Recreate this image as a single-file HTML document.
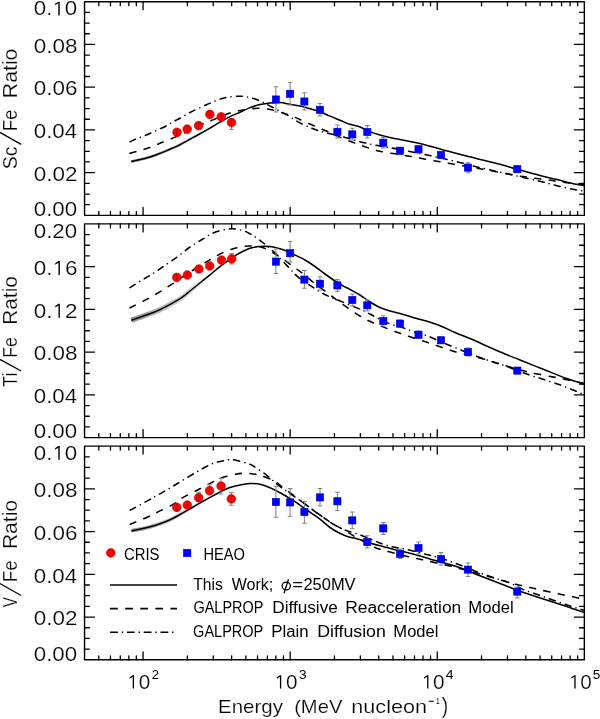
<!DOCTYPE html><html><head><meta charset="utf-8"><style>html,body{margin:0;padding:0;background:#fff;}svg{display:block;}text{font-family:"Liberation Sans",sans-serif;fill:#000;stroke:#fff;stroke-width:0.2px;}</style></head><body>
<svg width="600" height="719" viewBox="0 0 600 719">
<rect width="600" height="719" fill="#fff"/>
<path d="M98.8 215.4V211.4M98.8 1.7V5.7M110.45 215.4V211.4M110.45 1.7V5.7M120.3 215.4V211.4M120.3 1.7V5.7M128.83 215.4V211.4M128.83 1.7V5.7M136.35 215.4V211.4M136.35 1.7V5.7M143.08 215.4V207.4M143.08 1.7V9.7M187.36 215.4V211.4M187.36 1.7V5.7M213.26 215.4V211.4M213.26 1.7V5.7M231.64 215.4V211.4M231.64 1.7V5.7M245.89 215.4V211.4M245.89 1.7V5.7M257.54 215.4V211.4M257.54 1.7V5.7M267.39 215.4V211.4M267.39 1.7V5.7M275.92 215.4V211.4M275.92 1.7V5.7M283.44 215.4V211.4M283.44 1.7V5.7M290.17 215.4V207.4M290.17 1.7V9.7M334.45 215.4V211.4M334.45 1.7V5.7M360.35 215.4V211.4M360.35 1.7V5.7M378.73 215.4V211.4M378.73 1.7V5.7M392.98 215.4V211.4M392.98 1.7V5.7M404.63 215.4V211.4M404.63 1.7V5.7M414.48 215.4V211.4M414.48 1.7V5.7M423.01 215.4V211.4M423.01 1.7V5.7M430.53 215.4V211.4M430.53 1.7V5.7M437.26 215.4V207.4M437.26 1.7V9.7M481.54 215.4V211.4M481.54 1.7V5.7M507.44 215.4V211.4M507.44 1.7V5.7M525.82 215.4V211.4M525.82 1.7V5.7M540.07 215.4V211.4M540.07 1.7V5.7M551.72 215.4V211.4M551.72 1.7V5.7M561.57 215.4V211.4M561.57 1.7V5.7M570.1 215.4V211.4M570.1 1.7V5.7M577.62 215.4V211.4M577.62 1.7V5.7M84.55 204.71H89.35M584.35 204.71H579.55M84.55 194.03H89.35M584.35 194.03H579.55M84.55 183.34H89.35M584.35 183.34H579.55M84.55 172.66H94.55M584.35 172.66H574.35M84.55 161.97H89.35M584.35 161.97H579.55M84.55 151.29H89.35M584.35 151.29H579.55M84.55 140.6H89.35M584.35 140.6H579.55M84.55 129.92H94.55M584.35 129.92H574.35M84.55 119.23H89.35M584.35 119.23H579.55M84.55 108.55H89.35M584.35 108.55H579.55M84.55 97.86H89.35M584.35 97.86H579.55M84.55 87.18H94.55M584.35 87.18H574.35M84.55 76.49H89.35M584.35 76.49H579.55M84.55 65.81H89.35M584.35 65.81H579.55M84.55 55.13H89.35M584.35 55.13H579.55M84.55 44.44H94.55M584.35 44.44H574.35M84.55 33.76H89.35M584.35 33.76H579.55M84.55 23.07H89.35M584.35 23.07H579.55M84.55 12.39H89.35M584.35 12.39H579.55" fill="none" stroke="#000" stroke-width="1.3" stroke-linecap="round"/>
<rect x="84.55" y="1.7" width="499.8" height="213.7" fill="none" stroke="#000" stroke-width="1.4" stroke-linejoin="round"/>
<path d="M98.8 437.6V433.6M98.8 223.9V227.9M110.45 437.6V433.6M110.45 223.9V227.9M120.3 437.6V433.6M120.3 223.9V227.9M128.83 437.6V433.6M128.83 223.9V227.9M136.35 437.6V433.6M136.35 223.9V227.9M143.08 437.6V429.6M143.08 223.9V231.9M187.36 437.6V433.6M187.36 223.9V227.9M213.26 437.6V433.6M213.26 223.9V227.9M231.64 437.6V433.6M231.64 223.9V227.9M245.89 437.6V433.6M245.89 223.9V227.9M257.54 437.6V433.6M257.54 223.9V227.9M267.39 437.6V433.6M267.39 223.9V227.9M275.92 437.6V433.6M275.92 223.9V227.9M283.44 437.6V433.6M283.44 223.9V227.9M290.17 437.6V429.6M290.17 223.9V231.9M334.45 437.6V433.6M334.45 223.9V227.9M360.35 437.6V433.6M360.35 223.9V227.9M378.73 437.6V433.6M378.73 223.9V227.9M392.98 437.6V433.6M392.98 223.9V227.9M404.63 437.6V433.6M404.63 223.9V227.9M414.48 437.6V433.6M414.48 223.9V227.9M423.01 437.6V433.6M423.01 223.9V227.9M430.53 437.6V433.6M430.53 223.9V227.9M437.26 437.6V429.6M437.26 223.9V231.9M481.54 437.6V433.6M481.54 223.9V227.9M507.44 437.6V433.6M507.44 223.9V227.9M525.82 437.6V433.6M525.82 223.9V227.9M540.07 437.6V433.6M540.07 223.9V227.9M551.72 437.6V433.6M551.72 223.9V227.9M561.57 437.6V433.6M561.57 223.9V227.9M570.1 437.6V433.6M570.1 223.9V227.9M577.62 437.6V433.6M577.62 223.9V227.9M84.55 426.91H89.35M584.35 426.91H579.55M84.55 416.23H89.35M584.35 416.23H579.55M84.55 405.54H89.35M584.35 405.54H579.55M84.55 394.86H94.55M584.35 394.86H574.35M84.55 384.17H89.35M584.35 384.17H579.55M84.55 373.49H89.35M584.35 373.49H579.55M84.55 362.8H89.35M584.35 362.8H579.55M84.55 352.12H94.55M584.35 352.12H574.35M84.55 341.44H89.35M584.35 341.44H579.55M84.55 330.75H89.35M584.35 330.75H579.55M84.55 320.06H89.35M584.35 320.06H579.55M84.55 309.38H94.55M584.35 309.38H574.35M84.55 298.69H89.35M584.35 298.69H579.55M84.55 288.01H89.35M584.35 288.01H579.55M84.55 277.33H89.35M584.35 277.33H579.55M84.55 266.64H94.55M584.35 266.64H574.35M84.55 255.96H89.35M584.35 255.96H579.55M84.55 245.27H89.35M584.35 245.27H579.55M84.55 234.59H89.35M584.35 234.59H579.55" fill="none" stroke="#000" stroke-width="1.3" stroke-linecap="round"/>
<rect x="84.55" y="223.9" width="499.8" height="213.7" fill="none" stroke="#000" stroke-width="1.4" stroke-linejoin="round"/>
<path d="M98.8 659.8V655.8M98.8 446.1V450.1M110.45 659.8V655.8M110.45 446.1V450.1M120.3 659.8V655.8M120.3 446.1V450.1M128.83 659.8V655.8M128.83 446.1V450.1M136.35 659.8V655.8M136.35 446.1V450.1M143.08 659.8V651.8M143.08 446.1V454.1M187.36 659.8V655.8M187.36 446.1V450.1M213.26 659.8V655.8M213.26 446.1V450.1M231.64 659.8V655.8M231.64 446.1V450.1M245.89 659.8V655.8M245.89 446.1V450.1M257.54 659.8V655.8M257.54 446.1V450.1M267.39 659.8V655.8M267.39 446.1V450.1M275.92 659.8V655.8M275.92 446.1V450.1M283.44 659.8V655.8M283.44 446.1V450.1M290.17 659.8V651.8M290.17 446.1V454.1M334.45 659.8V655.8M334.45 446.1V450.1M360.35 659.8V655.8M360.35 446.1V450.1M378.73 659.8V655.8M378.73 446.1V450.1M392.98 659.8V655.8M392.98 446.1V450.1M404.63 659.8V655.8M404.63 446.1V450.1M414.48 659.8V655.8M414.48 446.1V450.1M423.01 659.8V655.8M423.01 446.1V450.1M430.53 659.8V655.8M430.53 446.1V450.1M437.26 659.8V651.8M437.26 446.1V454.1M481.54 659.8V655.8M481.54 446.1V450.1M507.44 659.8V655.8M507.44 446.1V450.1M525.82 659.8V655.8M525.82 446.1V450.1M540.07 659.8V655.8M540.07 446.1V450.1M551.72 659.8V655.8M551.72 446.1V450.1M561.57 659.8V655.8M561.57 446.1V450.1M570.1 659.8V655.8M570.1 446.1V450.1M577.62 659.8V655.8M577.62 446.1V450.1M84.55 649.12H89.35M584.35 649.12H579.55M84.55 638.43H89.35M584.35 638.43H579.55M84.55 627.75H89.35M584.35 627.75H579.55M84.55 617.06H94.55M584.35 617.06H574.35M84.55 606.38H89.35M584.35 606.38H579.55M84.55 595.69H89.35M584.35 595.69H579.55M84.55 585H89.35M584.35 585H579.55M84.55 574.32H94.55M584.35 574.32H574.35M84.55 563.63H89.35M584.35 563.63H579.55M84.55 552.95H89.35M584.35 552.95H579.55M84.55 542.26H89.35M584.35 542.26H579.55M84.55 531.58H94.55M584.35 531.58H574.35M84.55 520.89H89.35M584.35 520.89H579.55M84.55 510.21H89.35M584.35 510.21H579.55M84.55 499.53H89.35M584.35 499.53H579.55M84.55 488.84H94.55M584.35 488.84H574.35M84.55 478.16H89.35M584.35 478.16H579.55M84.55 467.47H89.35M584.35 467.47H579.55M84.55 456.79H89.35M584.35 456.79H579.55" fill="none" stroke="#000" stroke-width="1.3" stroke-linecap="round"/>
<rect x="84.55" y="446.1" width="499.8" height="213.7" fill="none" stroke="#000" stroke-width="1.4" stroke-linejoin="round"/>
<linearGradient id="bg0" gradientUnits="userSpaceOnUse" x1="131" y1="0" x2="215" y2="0"><stop offset="0" stop-color="#7a7a7a" stop-opacity="0.8"/><stop offset="1" stop-color="#7a7a7a" stop-opacity="0"/></linearGradient>
<path d="M131.3 161.6C132.47 161.33 136.02 160.53 138.3 160C140.58 159.47 142.77 159 145 158.4C147.23 157.8 149.48 157.12 151.7 156.4C153.92 155.68 156.08 154.93 158.3 154.1C160.52 153.27 162.5 152.45 165 151.4C167.5 150.35 170.8 148.92 173.3 147.8C175.8 146.68 177.77 145.82 180 144.7C182.23 143.58 184.48 142.32 186.7 141.1C188.92 139.88 191.08 138.62 193.3 137.4C195.52 136.18 197.22 135.35 200 133.8C202.78 132.25 206.67 130.05 210 128.1C213.33 126.15 216.67 124.02 220 122.1C223.33 120.18 226.67 118.25 230 116.6C233.33 114.95 236.67 113.7 240 112.2C243.33 110.7 246.67 108.87 250 107.6C253.33 106.33 256.67 105.38 260 104.6C263.33 103.82 266.67 103.23 270 102.9C273.33 102.57 276.67 102.37 280 102.6C283.33 102.83 286.67 103.72 290 104.3C293.33 104.88 296.67 105.37 300 106.1C303.33 106.83 306.67 107.75 310 108.7C313.33 109.65 316.67 110.57 320 111.8C323.33 113.03 326.67 114.7 330 116.1C333.33 117.5 336.67 118.83 340 120.2C343.33 121.57 346.67 123.17 350 124.3C353.33 125.43 356.67 125.78 360 127C363.33 128.22 366.67 130.27 370 131.6C373.33 132.93 376.67 134 380 135C383.33 136 386.67 136.83 390 137.6C393.33 138.37 396.67 138.95 400 139.6C403.33 140.25 406.67 140.85 410 141.5C413.33 142.15 414.72 142.18 420 143.5C425.28 144.82 433.65 147.23 441.7 149.4C449.75 151.57 459.42 154.23 468.3 156.5C477.18 158.77 486.88 160.88 495 163C503.12 165.12 509.5 167.12 517 169.2C524.5 171.28 533.38 173.77 540 175.5C546.62 177.23 551.15 178.23 556.7 179.6C562.25 180.97 568.7 182.7 573.3 183.7C577.9 184.7 582.47 185.28 584.3 185.6" fill="none" stroke="url(#bg0)" stroke-width="3.0"/>
<path d="M131.3 161.6C132.47 161.33 136.02 160.53 138.3 160C140.58 159.47 142.77 159 145 158.4C147.23 157.8 149.48 157.12 151.7 156.4C153.92 155.68 156.08 154.93 158.3 154.1C160.52 153.27 162.5 152.45 165 151.4C167.5 150.35 170.8 148.92 173.3 147.8C175.8 146.68 177.77 145.82 180 144.7C182.23 143.58 184.48 142.32 186.7 141.1C188.92 139.88 191.08 138.62 193.3 137.4C195.52 136.18 197.22 135.35 200 133.8C202.78 132.25 206.67 130.05 210 128.1C213.33 126.15 216.67 124.02 220 122.1C223.33 120.18 226.67 118.25 230 116.6C233.33 114.95 236.67 113.7 240 112.2C243.33 110.7 246.67 108.87 250 107.6C253.33 106.33 256.67 105.38 260 104.6C263.33 103.82 266.67 103.23 270 102.9C273.33 102.57 276.67 102.37 280 102.6C283.33 102.83 286.67 103.72 290 104.3C293.33 104.88 296.67 105.37 300 106.1C303.33 106.83 306.67 107.75 310 108.7C313.33 109.65 316.67 110.57 320 111.8C323.33 113.03 326.67 114.7 330 116.1C333.33 117.5 336.67 118.83 340 120.2C343.33 121.57 346.67 123.17 350 124.3C353.33 125.43 356.67 125.78 360 127C363.33 128.22 366.67 130.27 370 131.6C373.33 132.93 376.67 134 380 135C383.33 136 386.67 136.83 390 137.6C393.33 138.37 396.67 138.95 400 139.6C403.33 140.25 406.67 140.85 410 141.5C413.33 142.15 414.72 142.18 420 143.5C425.28 144.82 433.65 147.23 441.7 149.4C449.75 151.57 459.42 154.23 468.3 156.5C477.18 158.77 486.88 160.88 495 163C503.12 165.12 509.5 167.12 517 169.2C524.5 171.28 533.38 173.77 540 175.5C546.62 177.23 551.15 178.23 556.7 179.6C562.25 180.97 568.7 182.7 573.3 183.7C577.9 184.7 582.47 185.28 584.3 185.6" fill="none" stroke="#000" stroke-width="1.55" stroke-linejoin="round"/>
<path d="M130 153.3C131.17 152.97 134.62 151.97 137 151.3C139.38 150.63 141.92 150.02 144.3 149.3C146.68 148.58 148.97 147.88 151.3 147C153.63 146.12 156.02 144.95 158.3 144C160.58 143.05 162.38 142.37 165 141.3C167.62 140.23 171 138.9 174 137.6C177 136.3 180 134.85 183 133.5C186 132.15 188.5 131.17 192 129.5C195.5 127.83 200.17 125.25 204 123.5C207.83 121.75 210.67 120.75 215 119C219.33 117.25 225 114.55 230 113C235 111.45 240 110.48 245 109.7C250 108.92 255 108.17 260 108.3C265 108.43 270 109.3 275 110.5C280 111.7 285.42 113.8 290 115.5C294.58 117.2 298 118.75 302.5 120.7C307 122.65 312.42 125.23 317 127.2C321.58 129.17 326.17 130.82 330 132.5C333.83 134.18 335 135.22 340 137.3C345 139.38 353.33 142.67 360 145C366.67 147.33 373.33 149.72 380 151.3C386.67 152.88 394.17 153.5 400 154.5C405.83 155.5 408.05 156.05 415 157.3C421.95 158.55 432.82 160.43 441.7 162C450.58 163.57 459.42 165.12 468.3 166.7C477.18 168.28 485.88 169.85 495 171.5C504.12 173.15 514.5 175.25 523 176.6C531.5 177.95 539 178.62 546 179.6C553 180.58 558.62 181.67 565 182.5C571.38 183.33 581.08 184.25 584.3 184.6" fill="none" stroke="#000" stroke-width="1.55" stroke-linecap="round" stroke-dasharray="6 8.6"/>
<path d="M130 141.7C131.17 141.2 134.38 139.77 137 138.7C139.62 137.63 143.03 136.42 145.7 135.3C148.37 134.18 150.4 133.17 153 132C155.6 130.83 158.92 129.42 161.3 128.3C163.68 127.18 165.57 126.23 167.3 125.3C169.03 124.37 170.25 123.53 171.7 122.7C173.15 121.87 174.62 121.03 176 120.3C177.38 119.57 177.67 119.6 180 118.3C182.33 117 185.5 114.8 190 112.5C194.5 110.2 201.67 106.83 207 104.5C212.33 102.17 217.67 99.82 222 98.5C226.33 97.18 229.67 96.97 233 96.6C236.33 96.23 239.17 96.15 242 96.3C244.83 96.45 247.33 96.88 250 97.5C252.67 98.12 255.5 99 258 100C260.5 101 262.67 102.33 265 103.5C267.33 104.67 269.5 105.72 272 107C274.5 108.28 277.33 109.78 280 111.2C282.67 112.62 285.5 114.03 288 115.5C290.5 116.97 292.58 118.55 295 120C297.42 121.45 300 122.95 302.5 124.2C305 125.45 307.58 126.5 310 127.5C312.42 128.5 314.33 129.32 317 130.2C319.67 131.08 322.17 131.83 326 132.8C329.83 133.77 334.33 134.52 340 136C345.67 137.48 353.33 140.03 360 141.7C366.67 143.37 373.33 144.7 380 146C386.67 147.3 391.95 147.95 400 149.5C408.05 151.05 419.13 153.33 428.3 155.3C437.47 157.27 446.1 159.18 455 161.3C463.9 163.42 471.7 165.63 481.7 168C491.7 170.37 505.28 173.28 515 175.5C524.72 177.72 533.17 179.65 540 181.3C546.83 182.95 550.58 184.08 556 185.4C561.42 186.72 567.78 188.27 572.5 189.2C577.22 190.13 582.33 190.7 584.3 191" fill="none" stroke="#000" stroke-width="1.55" stroke-linecap="round" stroke-dasharray="6 5.3 0.01 5.3"/>
<linearGradient id="bg1" gradientUnits="userSpaceOnUse" x1="131" y1="0" x2="215" y2="0"><stop offset="0" stop-color="#7a7a7a" stop-opacity="0.85"/><stop offset="1" stop-color="#7a7a7a" stop-opacity="0"/></linearGradient>
<path d="M131.3 320.3C132.75 319.78 137.17 318.2 140 317.2C142.83 316.2 145.52 315.32 148.3 314.3C151.08 313.28 153.92 312.3 156.7 311.1C159.48 309.9 162.23 308.52 165 307.1C167.77 305.68 170.52 304.18 173.3 302.6C176.08 301.02 178.92 299.53 181.7 297.6C184.48 295.67 186.67 293.68 190 291C193.33 288.32 198.37 284.2 201.7 281.5C205.03 278.8 207.23 277.07 210 274.8C212.77 272.53 215.52 270.08 218.3 267.9C221.08 265.72 223.75 263.82 226.7 261.7C229.65 259.58 233.28 256.93 236 255.2C238.72 253.47 240.67 252.45 243 251.3C245.33 250.15 247.17 249.1 250 248.3C252.83 247.5 256.67 246.78 260 246.5C263.33 246.22 266.67 246.22 270 246.6C273.33 246.98 277.17 248.02 280 248.8C282.83 249.58 284.67 250.33 287 251.3C289.33 252.27 291 253.15 294 254.6C297 256.05 301.5 258.02 305 260C308.5 261.98 311.67 264.17 315 266.5C318.33 268.83 321.67 271.58 325 274C328.33 276.42 332.17 279.12 335 281C337.83 282.88 339.5 283.88 342 285.3C344.5 286.72 347 287.88 350 289.5C353 291.12 356.67 292.92 360 295C363.33 297.08 366.67 299.92 370 302C373.33 304.08 376.67 306 380 307.5C383.33 309 386.67 309.98 390 311C393.33 312.02 395.83 312.43 400 313.6C404.17 314.77 408.62 316.1 415 318C421.38 319.9 431.63 322.58 438.3 325C444.97 327.42 449.43 330.12 455 332.5C460.57 334.88 465.87 336.8 471.7 339.3C477.53 341.8 484.45 345.05 490 347.5C495.55 349.95 500 351.92 505 354C510 356.08 513.62 357.45 520 360C526.38 362.55 535.52 366.2 543.3 369.3C551.08 372.4 559.87 376.08 566.7 378.6C573.53 381.12 581.37 383.43 584.3 384.4" fill="none" stroke="url(#bg1)" stroke-width="5.2"/>
<path d="M131.3 320.3C132.75 319.78 137.17 318.2 140 317.2C142.83 316.2 145.52 315.32 148.3 314.3C151.08 313.28 153.92 312.3 156.7 311.1C159.48 309.9 162.23 308.52 165 307.1C167.77 305.68 170.52 304.18 173.3 302.6C176.08 301.02 178.92 299.53 181.7 297.6C184.48 295.67 186.67 293.68 190 291C193.33 288.32 198.37 284.2 201.7 281.5C205.03 278.8 207.23 277.07 210 274.8C212.77 272.53 215.52 270.08 218.3 267.9C221.08 265.72 223.75 263.82 226.7 261.7C229.65 259.58 233.28 256.93 236 255.2C238.72 253.47 240.67 252.45 243 251.3C245.33 250.15 247.17 249.1 250 248.3C252.83 247.5 256.67 246.78 260 246.5C263.33 246.22 266.67 246.22 270 246.6C273.33 246.98 277.17 248.02 280 248.8C282.83 249.58 284.67 250.33 287 251.3C289.33 252.27 291 253.15 294 254.6C297 256.05 301.5 258.02 305 260C308.5 261.98 311.67 264.17 315 266.5C318.33 268.83 321.67 271.58 325 274C328.33 276.42 332.17 279.12 335 281C337.83 282.88 339.5 283.88 342 285.3C344.5 286.72 347 287.88 350 289.5C353 291.12 356.67 292.92 360 295C363.33 297.08 366.67 299.92 370 302C373.33 304.08 376.67 306 380 307.5C383.33 309 386.67 309.98 390 311C393.33 312.02 395.83 312.43 400 313.6C404.17 314.77 408.62 316.1 415 318C421.38 319.9 431.63 322.58 438.3 325C444.97 327.42 449.43 330.12 455 332.5C460.57 334.88 465.87 336.8 471.7 339.3C477.53 341.8 484.45 345.05 490 347.5C495.55 349.95 500 351.92 505 354C510 356.08 513.62 357.45 520 360C526.38 362.55 535.52 366.2 543.3 369.3C551.08 372.4 559.87 376.08 566.7 378.6C573.53 381.12 581.37 383.43 584.3 384.4" fill="none" stroke="#000" stroke-width="1.55" stroke-linejoin="round"/>
<path d="M130 307.8C132.78 306.4 141.73 302.05 146.7 299.4C151.67 296.75 155.47 294.52 159.8 291.9C164.13 289.28 167.67 287.02 172.7 283.7C177.73 280.38 183.68 276.05 190 272C196.32 267.95 205.05 262.65 210.6 259.4C216.15 256.15 218.82 254.47 223.3 252.5C227.78 250.53 233.15 248.68 237.5 247.6C241.85 246.52 245.65 246.13 249.4 246C253.15 245.87 257.07 246.22 260 246.8C262.93 247.38 263.67 247.8 267 249.5C270.33 251.2 275.75 254.25 280 257C284.25 259.75 288.67 263.22 292.5 266C296.33 268.78 299.42 270.87 303 273.7C306.58 276.53 310 279.87 314 283C318 286.13 323 289.5 327 292.5C331 295.5 334.22 298.2 338 301C341.78 303.8 345.32 306.35 349.7 309.3C354.08 312.25 359.63 316.13 364.3 318.7C368.97 321.27 373.25 322.82 377.7 324.7C382.15 326.58 386.33 328.23 391 330C395.67 331.77 399.2 333.08 405.7 335.3C412.2 337.52 421.78 340.57 430 343.3C438.22 346.03 446.67 349.25 455 351.7C463.33 354.15 472.5 355.95 480 358C487.5 360.05 492.22 361.72 500 364C507.78 366.28 516.98 369.37 526.7 371.7C536.42 374.03 548.7 376.03 558.3 378C567.9 379.97 579.97 382.58 584.3 383.5" fill="none" stroke="#000" stroke-width="1.55" stroke-linecap="round" stroke-dasharray="6 8.6"/>
<path d="M130 287.6C131.67 286.54 137.08 283.03 140 281.25C142.92 279.47 145.07 278.36 147.5 276.9C149.93 275.44 151.97 274.23 154.6 272.5C157.23 270.77 159.62 269.03 163.3 266.5C166.98 263.97 172.47 260.38 176.7 257.3C180.93 254.22 185.52 250.33 188.7 248C191.88 245.67 193.42 244.8 195.8 243.3C198.18 241.8 200.63 240.47 203 239C205.37 237.53 207.5 235.78 210 234.5C212.5 233.22 215.25 232.17 218 231.3C220.75 230.43 224 229.72 226.5 229.3C229 228.88 230.75 228.72 233 228.8C235.25 228.88 237.83 229.33 240 229.8C242.17 230.27 244.17 230.85 246 231.6C247.83 232.35 249.08 233.15 251 234.3C252.92 235.45 255.33 236.97 257.5 238.5C259.67 240.03 261.92 241.83 264 243.5C266.08 245.17 267.67 246.42 270 248.5C272.33 250.58 274.67 252.62 278 256C281.33 259.38 286.5 265.17 290 268.8C293.5 272.43 295 274.6 299 277.8C303 281 310.33 285.55 314 288C317.67 290.45 318.5 291.08 321 292.5C323.5 293.92 326.38 295.32 329 296.5C331.62 297.68 331.25 297.35 336.7 299.6C342.15 301.85 355.32 307.15 361.7 310C368.08 312.85 370.57 314.48 375 316.7C379.43 318.92 383.85 321.53 388.3 323.3C392.75 325.07 397.7 325.97 401.7 327.3C405.7 328.63 408.42 330.02 412.3 331.3C416.18 332.58 419.27 332.85 425 335C430.73 337.15 437.53 340.45 446.7 344.2C455.87 347.95 470.28 353.9 480 357.5C489.72 361.1 497.22 363.05 505 365.8C512.78 368.55 517.82 370.92 526.7 374C535.58 377.08 548.7 380.87 558.3 384.3C567.9 387.73 579.97 392.88 584.3 394.6" fill="none" stroke="#000" stroke-width="1.55" stroke-linecap="round" stroke-dasharray="6 5.3 0.01 5.3"/>
<linearGradient id="bg2" gradientUnits="userSpaceOnUse" x1="131" y1="0" x2="215" y2="0"><stop offset="0" stop-color="#7a7a7a" stop-opacity="0.8"/><stop offset="1" stop-color="#7a7a7a" stop-opacity="0"/></linearGradient>
<path d="M131.4 530.8C134.22 530.22 143.53 528.47 148.3 527.3C153.07 526.13 156.1 525.18 160 523.8C163.9 522.42 167.82 520.87 171.7 519C175.58 517.13 179.13 514.95 183.3 512.6C187.47 510.25 192.25 507.43 196.7 504.9C201.15 502.37 206.12 499.55 210 497.4C213.88 495.25 216.67 493.63 220 492C223.33 490.37 226.67 488.77 230 487.6C233.33 486.43 236.67 485.67 240 485C243.33 484.33 246.67 483.72 250 483.6C253.33 483.48 256.67 483.6 260 484.3C263.33 485 266.67 486.38 270 487.8C273.33 489.22 276.67 491 280 492.8C283.33 494.6 287.5 497.12 290 498.6C292.5 500.08 292.78 500.22 295 501.7C297.22 503.18 300.52 505.57 303.3 507.5C306.08 509.43 308.92 511.35 311.7 513.3C314.48 515.25 316.95 516.83 320 519.2C323.05 521.57 326.95 525.28 330 527.5C333.05 529.72 335.52 531.05 338.3 532.5C341.08 533.95 343.92 535.23 346.7 536.2C349.48 537.17 352.37 537.63 355 538.3C357.63 538.97 359.58 539.3 362.5 540.2C365.42 541.1 368.97 542.62 372.5 543.7C376.03 544.78 379.95 545.7 383.7 546.7C387.45 547.7 390.62 548.6 395 549.7C399.38 550.8 404.17 551.75 410 553.3C415.83 554.85 421.67 556.58 430 559C438.33 561.42 451.67 565 460 567.8C468.33 570.6 473.33 573.18 480 575.8C486.67 578.42 493.33 580.93 500 583.5C506.67 586.07 512.78 588.63 520 591.2C527.22 593.77 535.52 596.35 543.3 598.9C551.08 601.45 559.87 604.22 566.7 606.5C573.53 608.78 581.37 611.58 584.3 612.6" fill="none" stroke="url(#bg2)" stroke-width="3.8"/>
<path d="M131.4 530.8C134.22 530.22 143.53 528.47 148.3 527.3C153.07 526.13 156.1 525.18 160 523.8C163.9 522.42 167.82 520.87 171.7 519C175.58 517.13 179.13 514.95 183.3 512.6C187.47 510.25 192.25 507.43 196.7 504.9C201.15 502.37 206.12 499.55 210 497.4C213.88 495.25 216.67 493.63 220 492C223.33 490.37 226.67 488.77 230 487.6C233.33 486.43 236.67 485.67 240 485C243.33 484.33 246.67 483.72 250 483.6C253.33 483.48 256.67 483.6 260 484.3C263.33 485 266.67 486.38 270 487.8C273.33 489.22 276.67 491 280 492.8C283.33 494.6 287.5 497.12 290 498.6C292.5 500.08 292.78 500.22 295 501.7C297.22 503.18 300.52 505.57 303.3 507.5C306.08 509.43 308.92 511.35 311.7 513.3C314.48 515.25 316.95 516.83 320 519.2C323.05 521.57 326.95 525.28 330 527.5C333.05 529.72 335.52 531.05 338.3 532.5C341.08 533.95 343.92 535.23 346.7 536.2C349.48 537.17 352.37 537.63 355 538.3C357.63 538.97 359.58 539.3 362.5 540.2C365.42 541.1 368.97 542.62 372.5 543.7C376.03 544.78 379.95 545.7 383.7 546.7C387.45 547.7 390.62 548.6 395 549.7C399.38 550.8 404.17 551.75 410 553.3C415.83 554.85 421.67 556.58 430 559C438.33 561.42 451.67 565 460 567.8C468.33 570.6 473.33 573.18 480 575.8C486.67 578.42 493.33 580.93 500 583.5C506.67 586.07 512.78 588.63 520 591.2C527.22 593.77 535.52 596.35 543.3 598.9C551.08 601.45 559.87 604.22 566.7 606.5C573.53 608.78 581.37 611.58 584.3 612.6" fill="none" stroke="#000" stroke-width="1.55" stroke-linejoin="round"/>
<path d="M130.3 524.3C133.3 523.05 143.35 519.03 148.3 516.8C153.25 514.57 155.72 513.05 160 510.9C164.28 508.75 170.12 506.17 174 503.9C177.88 501.63 179.52 499.53 183.3 497.3C187.08 495.07 192.25 492.82 196.7 490.5C201.15 488.18 205.57 485.6 210 483.4C214.43 481.2 218.85 478.87 223.3 477.3C227.75 475.73 233.08 474.67 236.7 474C240.32 473.33 242.23 473.3 245 473.3C247.77 473.3 250.8 473.67 253.3 474C255.8 474.33 256.67 474.22 260 475.3C263.33 476.38 269.47 478.47 273.3 480.5C277.13 482.53 279.38 484.83 283 487.5C286.62 490.17 291 493.5 295 496.5C299 499.5 303 502.5 307 505.5C311 508.5 314.67 511.42 319 514.5C323.33 517.58 328.67 521.33 333 524C337.33 526.67 340.83 528.08 345 530.5C349.17 532.92 353.42 535.87 358 538.5C362.58 541.13 368.17 544.3 372.5 546.3C376.83 548.3 377.25 548.6 384 550.5C390.75 552.4 405.67 555.95 413 557.7C420.33 559.45 420.83 559.37 428 561C435.17 562.63 447.33 565.33 456 567.5C464.67 569.67 472.67 571.95 480 574C487.33 576.05 494.17 578.13 500 579.8C505.83 581.47 510 582.72 515 584C520 585.28 524.17 586.17 530 587.5C535.83 588.83 542 590.25 550 592C558 593.75 572.28 596.78 578 598C583.72 599.22 583.25 599.08 584.3 599.3" fill="none" stroke="#000" stroke-width="1.55" stroke-linecap="round" stroke-dasharray="6 8.6"/>
<path d="M130.3 510.1C133.3 508.48 143.35 503.12 148.3 500.4C153.25 497.68 156.1 496.03 160 493.8C163.9 491.57 167.82 489.3 171.7 487C175.58 484.7 179.13 482.5 183.3 480C187.47 477.5 192.83 474.25 196.7 472C200.57 469.75 203.62 468 206.5 466.5C209.38 465 211.33 463.92 214 463C216.67 462.08 219.83 461.58 222.5 461C225.17 460.42 227.42 459.53 230 459.5C232.58 459.47 235.12 460.13 238 460.8C240.88 461.47 244.75 462.63 247.3 463.5C249.85 464.37 250.07 464.03 253.3 466C256.53 467.97 262.7 472.22 266.7 475.3C270.7 478.38 273.97 481.83 277.3 484.5C280.63 487.17 283.75 489.22 286.7 491.3C289.65 493.38 291.62 494.63 295 497C298.38 499.37 302.83 502.5 307 505.5C311.17 508.5 315.67 511.92 320 515C324.33 518.08 328.83 521.5 333 524C337.17 526.5 340.63 528.23 345 530C349.37 531.77 354.24 532.78 359.2 534.6C364.16 536.42 370.28 539.13 374.75 540.9C379.22 542.67 382.46 544.1 386 545.2C389.54 546.3 392.42 546.78 396 547.5C399.58 548.22 402.83 548.45 407.5 549.5C412.17 550.55 418.58 552.38 424 553.8C429.42 555.22 434 556.13 440 558C446 559.87 453.33 562.5 460 565C466.67 567.5 473.33 570.55 480 573C486.67 575.45 495 578.03 500 579.7C505 581.37 506.08 581.35 510 583C513.92 584.65 517.95 587.33 523.5 589.6C529.05 591.87 536.1 594.07 543.3 596.6C550.5 599.13 559.87 602.47 566.7 604.8C573.53 607.13 581.37 609.63 584.3 610.6" fill="none" stroke="#000" stroke-width="1.55" stroke-linecap="round" stroke-dasharray="6 5.3 0.01 5.3"/>
<circle cx="177" cy="132.3" r="4.35" fill="#ff0000" stroke="#c00000" stroke-width="0.6"/>
<path d="M177 128.3V136.3" stroke="#b00000" stroke-width="0.9" fill="none"/>
<circle cx="187.2" cy="129.1" r="4.35" fill="#ff0000" stroke="#c00000" stroke-width="0.6"/>
<path d="M187.2 125.1V133.1" stroke="#b00000" stroke-width="0.9" fill="none"/>
<circle cx="198.6" cy="125.6" r="4.35" fill="#ff0000" stroke="#c00000" stroke-width="0.6"/>
<path d="M198.6 121.6V129.6" stroke="#b00000" stroke-width="0.9" fill="none"/>
<circle cx="209.9" cy="114.4" r="4.35" fill="#ff0000" stroke="#c00000" stroke-width="0.6"/>
<path d="M209.9 110.4V118.4" stroke="#b00000" stroke-width="0.9" fill="none"/>
<circle cx="221.2" cy="116.8" r="4.35" fill="#ff0000" stroke="#c00000" stroke-width="0.6"/>
<path d="M221.2 112.8V120.8" stroke="#b00000" stroke-width="0.9" fill="none"/>
<path d="M231.5 118.1V118.5M229.2 118.5H233.8M231.5 126.9V129.4M229.2 129.4H233.8" stroke="#858585" stroke-width="1.05" fill="none"/>
<circle cx="231.5" cy="122.5" r="4.35" fill="#ff0000" stroke="#c00000" stroke-width="0.6"/>
<path d="M231.5 118.5V126.5" stroke="#b00000" stroke-width="0.9" fill="none"/>
<path d="M275.9 86.7V112M273.6 86.7H278.2M273.6 112H278.2" stroke="#858585" stroke-width="1.05" fill="none"/>
<rect x="272.3" y="95.9" width="7.2" height="7.2" fill="#0000ff" stroke="#0000c0" stroke-width="0.6"/>
<path d="M290.1 82.4V105M287.8 82.4H292.4M287.8 105H292.4" stroke="#858585" stroke-width="1.05" fill="none"/>
<rect x="286.5" y="90.2" width="7.2" height="7.2" fill="#0000ff" stroke="#0000c0" stroke-width="0.6"/>
<path d="M304.4 92.8V110M302.1 92.8H306.7M302.1 110H306.7" stroke="#858585" stroke-width="1.05" fill="none"/>
<rect x="300.8" y="97.9" width="7.2" height="7.2" fill="#0000ff" stroke="#0000c0" stroke-width="0.6"/>
<path d="M320 103.5V116M317.7 103.5H322.3M317.7 116H322.3" stroke="#858585" stroke-width="1.05" fill="none"/>
<rect x="316.4" y="106.2" width="7.2" height="7.2" fill="#0000ff" stroke="#0000c0" stroke-width="0.6"/>
<path d="M337.4 125V138M335.1 125H339.7M335.1 138H339.7" stroke="#858585" stroke-width="1.05" fill="none"/>
<rect x="333.8" y="128.2" width="7.2" height="7.2" fill="#0000ff" stroke="#0000c0" stroke-width="0.6"/>
<path d="M352.3 128.3V140M350 128.3H354.6M350 140H354.6" stroke="#858585" stroke-width="1.05" fill="none"/>
<rect x="348.7" y="130.8" width="7.2" height="7.2" fill="#0000ff" stroke="#0000c0" stroke-width="0.6"/>
<path d="M367.3 125.6V138M365 125.6H369.6M365 138H369.6" stroke="#858585" stroke-width="1.05" fill="none"/>
<rect x="363.7" y="128.4" width="7.2" height="7.2" fill="#0000ff" stroke="#0000c0" stroke-width="0.6"/>
<path d="M383.3 137.3V148M381 137.3H385.6M381 148H385.6" stroke="#858585" stroke-width="1.05" fill="none"/>
<rect x="379.7" y="139.1" width="7.2" height="7.2" fill="#0000ff" stroke="#0000c0" stroke-width="0.6"/>
<path d="M400 147.5V154M397.7 147.5H402.3M397.7 154H402.3" stroke="#858585" stroke-width="1.05" fill="none"/>
<rect x="396.4" y="147.1" width="7.2" height="7.2" fill="#0000ff" stroke="#0000c0" stroke-width="0.6"/>
<path d="M418.5 146V153M416.2 146H420.8M416.2 153H420.8" stroke="#858585" stroke-width="1.05" fill="none"/>
<rect x="414.9" y="145.7" width="7.2" height="7.2" fill="#0000ff" stroke="#0000c0" stroke-width="0.6"/>
<path d="M441 152V158M438.7 152H443.3M438.7 158H443.3" stroke="#858585" stroke-width="1.05" fill="none"/>
<rect x="437.4" y="151.4" width="7.2" height="7.2" fill="#0000ff" stroke="#0000c0" stroke-width="0.6"/>
<path d="M468 162.7V172.7M465.7 162.7H470.3M465.7 172.7H470.3" stroke="#858585" stroke-width="1.05" fill="none"/>
<rect x="464.4" y="164" width="7.2" height="7.2" fill="#0000ff" stroke="#0000c0" stroke-width="0.6"/>
<path d="M517.3 166V172.5M515 166H519.6M515 172.5H519.6" stroke="#858585" stroke-width="1.05" fill="none"/>
<rect x="513.7" y="165.6" width="7.2" height="7.2" fill="#0000ff" stroke="#0000c0" stroke-width="0.6"/>
<circle cx="176.8" cy="277.4" r="4.35" fill="#ff0000" stroke="#c00000" stroke-width="0.6"/>
<path d="M176.8 273.4V281.4" stroke="#b00000" stroke-width="0.9" fill="none"/>
<circle cx="187.3" cy="275" r="4.35" fill="#ff0000" stroke="#c00000" stroke-width="0.6"/>
<path d="M187.3 271V279" stroke="#b00000" stroke-width="0.9" fill="none"/>
<circle cx="198.9" cy="269" r="4.35" fill="#ff0000" stroke="#c00000" stroke-width="0.6"/>
<path d="M198.9 265V273" stroke="#b00000" stroke-width="0.9" fill="none"/>
<circle cx="209.7" cy="266" r="4.35" fill="#ff0000" stroke="#c00000" stroke-width="0.6"/>
<path d="M209.7 262V270" stroke="#b00000" stroke-width="0.9" fill="none"/>
<circle cx="221.6" cy="260.1" r="4.35" fill="#ff0000" stroke="#c00000" stroke-width="0.6"/>
<path d="M221.6 256.1V264.1" stroke="#b00000" stroke-width="0.9" fill="none"/>
<path d="M231.7 254.5V253.6M229.4 253.6H234M231.7 263.3V264M229.4 264H234" stroke="#858585" stroke-width="1.05" fill="none"/>
<circle cx="231.7" cy="258.9" r="4.35" fill="#ff0000" stroke="#c00000" stroke-width="0.6"/>
<path d="M231.7 254.9V262.9" stroke="#b00000" stroke-width="0.9" fill="none"/>
<path d="M275.9 249V273.4M273.6 249H278.2M273.6 273.4H278.2" stroke="#858585" stroke-width="1.05" fill="none"/>
<rect x="272.3" y="258" width="7.2" height="7.2" fill="#0000ff" stroke="#0000c0" stroke-width="0.6"/>
<path d="M290.1 241.5V262M287.8 241.5H292.4M287.8 262H292.4" stroke="#858585" stroke-width="1.05" fill="none"/>
<rect x="286.5" y="249.6" width="7.2" height="7.2" fill="#0000ff" stroke="#0000c0" stroke-width="0.6"/>
<path d="M304.4 270.4V288.3M302.1 270.4H306.7M302.1 288.3H306.7" stroke="#858585" stroke-width="1.05" fill="none"/>
<rect x="300.8" y="276" width="7.2" height="7.2" fill="#0000ff" stroke="#0000c0" stroke-width="0.6"/>
<path d="M320 276.8V290M317.7 276.8H322.3M317.7 290H322.3" stroke="#858585" stroke-width="1.05" fill="none"/>
<rect x="316.4" y="280.15" width="7.2" height="7.2" fill="#0000ff" stroke="#0000c0" stroke-width="0.6"/>
<path d="M337.4 279.6V291.25M335.1 279.6H339.7M335.1 291.25H339.7" stroke="#858585" stroke-width="1.05" fill="none"/>
<rect x="333.8" y="281.8" width="7.2" height="7.2" fill="#0000ff" stroke="#0000c0" stroke-width="0.6"/>
<path d="M352.3 294V306M350 294H354.6M350 306H354.6" stroke="#858585" stroke-width="1.05" fill="none"/>
<rect x="348.7" y="296.4" width="7.2" height="7.2" fill="#0000ff" stroke="#0000c0" stroke-width="0.6"/>
<path d="M367.3 300V311M365 300H369.6M365 311H369.6" stroke="#858585" stroke-width="1.05" fill="none"/>
<rect x="363.7" y="301.7" width="7.2" height="7.2" fill="#0000ff" stroke="#0000c0" stroke-width="0.6"/>
<path d="M383.3 315.7V326M381 315.7H385.6M381 326H385.6" stroke="#858585" stroke-width="1.05" fill="none"/>
<rect x="379.7" y="317.4" width="7.2" height="7.2" fill="#0000ff" stroke="#0000c0" stroke-width="0.6"/>
<path d="M400 320V327M397.7 320H402.3M397.7 327H402.3" stroke="#858585" stroke-width="1.05" fill="none"/>
<rect x="396.4" y="320" width="7.2" height="7.2" fill="#0000ff" stroke="#0000c0" stroke-width="0.6"/>
<path d="M418.5 331V338M416.2 331H420.8M416.2 338H420.8" stroke="#858585" stroke-width="1.05" fill="none"/>
<rect x="414.9" y="331.1" width="7.2" height="7.2" fill="#0000ff" stroke="#0000c0" stroke-width="0.6"/>
<path d="M441 337V343.5M438.7 337H443.3M438.7 343.5H443.3" stroke="#858585" stroke-width="1.05" fill="none"/>
<rect x="437.4" y="336.7" width="7.2" height="7.2" fill="#0000ff" stroke="#0000c0" stroke-width="0.6"/>
<path d="M468 348V356M465.7 348H470.3M465.7 356H470.3" stroke="#858585" stroke-width="1.05" fill="none"/>
<rect x="464.4" y="348.4" width="7.2" height="7.2" fill="#0000ff" stroke="#0000c0" stroke-width="0.6"/>
<path d="M517.3 367.5V373.5M515 367.5H519.6M515 373.5H519.6" stroke="#858585" stroke-width="1.05" fill="none"/>
<rect x="513.7" y="367" width="7.2" height="7.2" fill="#0000ff" stroke="#0000c0" stroke-width="0.6"/>
<circle cx="176.8" cy="507.3" r="4.35" fill="#ff0000" stroke="#c00000" stroke-width="0.6"/>
<path d="M176.8 503.3V511.3" stroke="#b00000" stroke-width="0.9" fill="none"/>
<circle cx="187.3" cy="505" r="4.35" fill="#ff0000" stroke="#c00000" stroke-width="0.6"/>
<path d="M187.3 501V509" stroke="#b00000" stroke-width="0.9" fill="none"/>
<path d="M198.7 493.3V492.3M196.4 492.3H201" stroke="#858585" stroke-width="1.05" fill="none"/>
<circle cx="198.7" cy="497.7" r="4.35" fill="#ff0000" stroke="#c00000" stroke-width="0.6"/>
<path d="M198.7 493.7V501.7" stroke="#b00000" stroke-width="0.9" fill="none"/>
<path d="M209.6 486.3V484.7M207.3 484.7H211.9" stroke="#858585" stroke-width="1.05" fill="none"/>
<circle cx="209.6" cy="490.7" r="4.35" fill="#ff0000" stroke="#c00000" stroke-width="0.6"/>
<path d="M209.6 486.7V494.7" stroke="#b00000" stroke-width="0.9" fill="none"/>
<path d="M221.1 481.6V478.4M218.8 478.4H223.4M221.1 490.4V494M218.8 494H223.4" stroke="#858585" stroke-width="1.05" fill="none"/>
<circle cx="221.1" cy="486" r="4.35" fill="#ff0000" stroke="#c00000" stroke-width="0.6"/>
<path d="M221.1 482V490" stroke="#b00000" stroke-width="0.9" fill="none"/>
<path d="M231.3 494.5V492.4M229 492.4H233.6M231.3 503.3V505.3M229 505.3H233.6" stroke="#858585" stroke-width="1.05" fill="none"/>
<circle cx="231.3" cy="498.9" r="4.35" fill="#ff0000" stroke="#c00000" stroke-width="0.6"/>
<path d="M231.3 494.9V502.9" stroke="#b00000" stroke-width="0.9" fill="none"/>
<path d="M275.9 486.3V517.3M273.6 486.3H278.2M273.6 517.3H278.2" stroke="#858585" stroke-width="1.05" fill="none"/>
<rect x="272.3" y="498.4" width="7.2" height="7.2" fill="#0000ff" stroke="#0000c0" stroke-width="0.6"/>
<path d="M290.1 488.6V516.2M287.8 488.6H292.4M287.8 516.2H292.4" stroke="#858585" stroke-width="1.05" fill="none"/>
<rect x="286.5" y="498.8" width="7.2" height="7.2" fill="#0000ff" stroke="#0000c0" stroke-width="0.6"/>
<path d="M304.4 501.4V523.3M302.1 501.4H306.7M302.1 523.3H306.7" stroke="#858585" stroke-width="1.05" fill="none"/>
<rect x="300.8" y="508.4" width="7.2" height="7.2" fill="#0000ff" stroke="#0000c0" stroke-width="0.6"/>
<path d="M320 488.4V506M317.7 488.4H322.3M317.7 506H322.3" stroke="#858585" stroke-width="1.05" fill="none"/>
<rect x="316.4" y="493.8" width="7.2" height="7.2" fill="#0000ff" stroke="#0000c0" stroke-width="0.6"/>
<path d="M337.4 492.3V510.4M335.1 492.3H339.7M335.1 510.4H339.7" stroke="#858585" stroke-width="1.05" fill="none"/>
<rect x="333.8" y="497.7" width="7.2" height="7.2" fill="#0000ff" stroke="#0000c0" stroke-width="0.6"/>
<path d="M352.3 512V528.7M350 512H354.6M350 528.7H354.6" stroke="#858585" stroke-width="1.05" fill="none"/>
<rect x="348.7" y="516.8" width="7.2" height="7.2" fill="#0000ff" stroke="#0000c0" stroke-width="0.6"/>
<path d="M367.3 535.7V548M365 535.7H369.6M365 548H369.6" stroke="#858585" stroke-width="1.05" fill="none"/>
<rect x="363.7" y="538.4" width="7.2" height="7.2" fill="#0000ff" stroke="#0000c0" stroke-width="0.6"/>
<path d="M383.3 522.4V534.4M381 522.4H385.6M381 534.4H385.6" stroke="#858585" stroke-width="1.05" fill="none"/>
<rect x="379.7" y="524.8" width="7.2" height="7.2" fill="#0000ff" stroke="#0000c0" stroke-width="0.6"/>
<path d="M400 549V558.5M397.7 549H402.3M397.7 558.5H402.3" stroke="#858585" stroke-width="1.05" fill="none"/>
<rect x="396.4" y="550.2" width="7.2" height="7.2" fill="#0000ff" stroke="#0000c0" stroke-width="0.6"/>
<path d="M418.5 542V554M416.2 542H420.8M416.2 554H420.8" stroke="#858585" stroke-width="1.05" fill="none"/>
<rect x="414.9" y="544.4" width="7.2" height="7.2" fill="#0000ff" stroke="#0000c0" stroke-width="0.6"/>
<path d="M441 552.6V565M438.7 552.6H443.3M438.7 565H443.3" stroke="#858585" stroke-width="1.05" fill="none"/>
<rect x="437.4" y="555.4" width="7.2" height="7.2" fill="#0000ff" stroke="#0000c0" stroke-width="0.6"/>
<path d="M468 563V576.4M465.7 563H470.3M465.7 576.4H470.3" stroke="#858585" stroke-width="1.05" fill="none"/>
<rect x="464.4" y="566" width="7.2" height="7.2" fill="#0000ff" stroke="#0000c0" stroke-width="0.6"/>
<path d="M517.3 587V598M515 587H519.6M515 598H519.6" stroke="#858585" stroke-width="1.05" fill="none"/>
<rect x="513.7" y="588" width="7.2" height="7.2" fill="#0000ff" stroke="#0000c0" stroke-width="0.6"/>
<g style="will-change:transform"><path transform="translate(52.36 15.45) scale(0.01089 -0.00977)" d="M545 0L545 1250L250 1040L250 1185L545 1409L675 1409L675 0Z" fill="#000"/>
<text x="33.76" y="15.45" font-size="20" textLength="43.4" lengthAdjust="spacingAndGlyphs">0. 0</text>
<text x="33.76" y="52.69" font-size="20" textLength="43.69" lengthAdjust="spacingAndGlyphs">0.08</text>
<text x="33.76" y="95.43" font-size="20" textLength="43.69" lengthAdjust="spacingAndGlyphs">0.06</text>
<text x="33.76" y="138.17" font-size="20" textLength="43.4" lengthAdjust="spacingAndGlyphs">0.04</text>
<text x="33.76" y="180.91" font-size="20" textLength="43.69" lengthAdjust="spacingAndGlyphs">0.02</text>
<text x="33.76" y="216.15" font-size="20" textLength="43.4" lengthAdjust="spacingAndGlyphs">0.00</text>
<text x="33.76" y="237.65" font-size="20" textLength="43.4" lengthAdjust="spacingAndGlyphs">0.20</text>
<path transform="translate(52.48 274.89) scale(0.01096 -0.00977)" d="M545 0L545 1250L250 1040L250 1185L545 1409L675 1409L675 0Z" fill="#000"/>
<text x="33.76" y="274.89" font-size="20" textLength="43.69" lengthAdjust="spacingAndGlyphs">0. 6</text>
<path transform="translate(52.48 317.63) scale(0.01096 -0.00977)" d="M545 0L545 1250L250 1040L250 1185L545 1409L675 1409L675 0Z" fill="#000"/>
<text x="33.76" y="317.63" font-size="20" textLength="43.69" lengthAdjust="spacingAndGlyphs">0. 2</text>
<text x="33.76" y="360.37" font-size="20" textLength="43.69" lengthAdjust="spacingAndGlyphs">0.08</text>
<text x="33.76" y="403.11" font-size="20" textLength="43.4" lengthAdjust="spacingAndGlyphs">0.04</text>
<text x="33.76" y="438.35" font-size="20" textLength="43.4" lengthAdjust="spacingAndGlyphs">0.00</text>
<path transform="translate(52.36 459.85) scale(0.01089 -0.00977)" d="M545 0L545 1250L250 1040L250 1185L545 1409L675 1409L675 0Z" fill="#000"/>
<text x="33.76" y="459.85" font-size="20" textLength="43.4" lengthAdjust="spacingAndGlyphs">0. 0</text>
<text x="33.76" y="497.09" font-size="20" textLength="43.69" lengthAdjust="spacingAndGlyphs">0.08</text>
<text x="33.76" y="539.83" font-size="20" textLength="43.69" lengthAdjust="spacingAndGlyphs">0.06</text>
<text x="33.76" y="582.57" font-size="20" textLength="43.4" lengthAdjust="spacingAndGlyphs">0.04</text>
<text x="33.76" y="625.31" font-size="20" textLength="43.69" lengthAdjust="spacingAndGlyphs">0.02</text>
<text x="33.76" y="660.55" font-size="20" textLength="43.4" lengthAdjust="spacingAndGlyphs">0.00</text>
<path transform="translate(127.21 688.6) scale(0.01011 -0.00952)" d="M545 0L545 1250L250 1040L250 1185L545 1409L675 1409L675 0Z" fill="#000"/>
<text x="127.21" y="688.6" font-size="19.5" textLength="23.04" lengthAdjust="spacingAndGlyphs"> 0</text>
<path transform="translate(274.41 688.6) scale(0.01011 -0.00952)" d="M545 0L545 1250L250 1040L250 1185L545 1409L675 1409L675 0Z" fill="#000"/>
<text x="274.41" y="688.6" font-size="19.5" textLength="23.04" lengthAdjust="spacingAndGlyphs"> 0</text>
<path transform="translate(421.61 688.6) scale(0.01011 -0.00952)" d="M545 0L545 1250L250 1040L250 1185L545 1409L675 1409L675 0Z" fill="#000"/>
<text x="421.61" y="688.6" font-size="19.5" textLength="23.04" lengthAdjust="spacingAndGlyphs"> 0</text>
<path transform="translate(568.81 688.6) scale(0.01011 -0.00952)" d="M545 0L545 1250L250 1040L250 1185L545 1409L675 1409L675 0Z" fill="#000"/>
<text x="568.81" y="688.6" font-size="19.5" textLength="23.04" lengthAdjust="spacingAndGlyphs"> 0</text>
<text x="151.72" y="679.4" font-size="12.5" textLength="7.21" lengthAdjust="spacingAndGlyphs" style="stroke:none">2</text>
<text x="298.96" y="679.4" font-size="12.5" textLength="7.53" lengthAdjust="spacingAndGlyphs" style="stroke:none">3</text>
<text x="445.72" y="679.4" font-size="12.5" textLength="7.79" lengthAdjust="spacingAndGlyphs" style="stroke:none">4</text>
<text x="592.76" y="679.4" font-size="12.5" textLength="7.53" lengthAdjust="spacingAndGlyphs" style="stroke:none">5</text>
<text x="218.08" y="713.4" font-size="19" textLength="64.83" lengthAdjust="spacingAndGlyphs">Energy</text>
<text x="294.17" y="713.4" font-size="19" textLength="48.19" lengthAdjust="spacingAndGlyphs">(MeV</text>
<text x="351.28" y="713.4" font-size="19" textLength="75.82" lengthAdjust="spacingAndGlyphs">nucleon</text>
<text x="436.02" y="703.5" font-size="8.5" textLength="3.65" lengthAdjust="spacingAndGlyphs" style="stroke:none">1</text>
<text x="441.79" y="713.3" font-size="22.5" textLength="6.39" lengthAdjust="spacingAndGlyphs">)</text>
<text transform="translate(16.6 169.2) rotate(-90)" font-size="19.5" textLength="22.82" lengthAdjust="spacingAndGlyphs">Sc</text>
<text transform="translate(16.6 131.34) rotate(-90)" font-size="19.5" textLength="21.88" lengthAdjust="spacingAndGlyphs">Fe</text>
<text transform="translate(16.6 98.19) rotate(-90)" font-size="19.5" textLength="49.64" lengthAdjust="spacingAndGlyphs">Ratio</text>
<text transform="translate(16.6 386.96) rotate(-90)" font-size="19.5" textLength="14.35" lengthAdjust="spacingAndGlyphs">Ti</text>
<text transform="translate(16.6 357.66) rotate(-90)" font-size="19.5" textLength="20.6" lengthAdjust="spacingAndGlyphs">Fe</text>
<text transform="translate(16.6 324.7) rotate(-90)" font-size="19.5" textLength="48.53" lengthAdjust="spacingAndGlyphs">Ratio</text>
<text transform="translate(16.6 607.2) rotate(-90)" font-size="19.5" textLength="10.2" lengthAdjust="spacingAndGlyphs">V</text>
<text transform="translate(16.6 582.14) rotate(-90)" font-size="19.5" textLength="21.88" lengthAdjust="spacingAndGlyphs">Fe</text>
<text transform="translate(16.6 549.12) rotate(-90)" font-size="19.5" textLength="49.16" lengthAdjust="spacingAndGlyphs">Ratio</text>
<text x="124" y="559.9" font-size="15.8" textLength="35.41" lengthAdjust="spacingAndGlyphs" style="stroke:none">CRIS</text>
<text x="203.45" y="560" font-size="15.8" textLength="41.38" lengthAdjust="spacingAndGlyphs" style="stroke:none">HEAO</text>
<text x="193.25" y="589.6" font-size="15.8" textLength="29.54" lengthAdjust="spacingAndGlyphs" style="stroke:none">This</text>
<text x="231.75" y="589.6" font-size="15.8" textLength="41.44" lengthAdjust="spacingAndGlyphs" style="stroke:none">Work;</text>
<text x="292.23" y="589.6" font-size="15.8" textLength="10.72" lengthAdjust="spacingAndGlyphs" style="stroke:none">=</text>
<text x="303.42" y="589.6" font-size="15.8" textLength="52.21" lengthAdjust="spacingAndGlyphs" style="stroke:none">250MV</text>
<text x="193.51" y="613.1" font-size="15.8" textLength="69.8" lengthAdjust="spacingAndGlyphs" style="stroke:none">GALPROP</text>
<text x="272.24" y="613.1" font-size="15.8" textLength="65.63" lengthAdjust="spacingAndGlyphs" style="stroke:none">Diffusive</text>
<text x="345.22" y="613.1" font-size="15.8" textLength="116.01" lengthAdjust="spacingAndGlyphs" style="stroke:none">Reacceleration</text>
<text x="468.38" y="613.1" font-size="15.8" textLength="45.41" lengthAdjust="spacingAndGlyphs" style="stroke:none">Model</text>
<text x="193.11" y="636.7" font-size="15.8" textLength="70.21" lengthAdjust="spacingAndGlyphs" style="stroke:none">GALPROP</text>
<text x="271.37" y="636.7" font-size="15.8" textLength="37.34" lengthAdjust="spacingAndGlyphs" style="stroke:none">Plain</text>
<text x="317.2" y="636.7" font-size="15.8" textLength="68.65" lengthAdjust="spacingAndGlyphs" style="stroke:none">Diffusion</text>
<text x="393.39" y="636.7" font-size="15.8" textLength="44.98" lengthAdjust="spacingAndGlyphs" style="stroke:none">Model</text></g>
<path d="M0.3 132.6L20.7 144.1M0.3 359.6L20.7 370.8M0.3 583.7L20.7 595.2" stroke="#000" stroke-width="1.25" fill="none" stroke-linecap="round"/>
<rect x="428.7" y="700.75" width="5.1" height="1.05" fill="#000"/>
<ellipse cx="286.25" cy="586" rx="4.1" ry="3.85" fill="none" stroke="#000" stroke-width="1.25"/>
<path d="M288.5 579.3L284 593.3" stroke="#000" stroke-width="1.25" fill="none"/>
<circle cx="110.8" cy="552.9" r="4.35" fill="#ff0000" stroke="#c00000" stroke-width="0.6"/>
<rect x="183.5" y="549.3" width="7.4" height="7.4" fill="#0000ff" stroke="#0000c0" stroke-width="0.6"/>
<path d="M110.1 585H177" stroke="#000" stroke-width="1.6"/>
<path d="M110.1 608.6H177" stroke="#000" stroke-width="1.6" stroke-dasharray="7.7 7.4"/>
<path d="M110.1 632.3H177" stroke="#000" stroke-width="1.6" stroke-dasharray="7.8 3.8 1.4 3.8"/>
</svg></body></html>
